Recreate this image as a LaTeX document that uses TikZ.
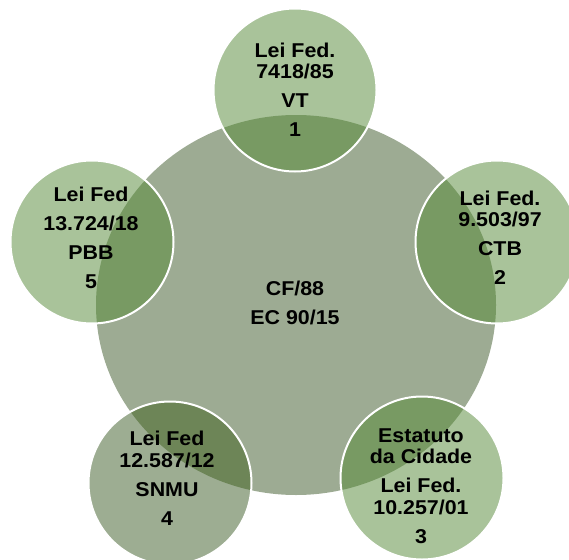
\documentclass[tikz,border=0pt]{standalone}
\usepackage{fontspec}
\setmainfont[FakeStretch=1.07]{Liberation Sans}
\usetikzlibrary{shapes.geometric}
\definecolor{bigc}{HTML}{9DAB93}
\definecolor{lightc}{HTML}{A9C39A}
\definecolor{ovc}{HTML}{789A63}
\definecolor{grayc}{HTML}{9DAD92}
\definecolor{ovgc}{HTML}{6D8557}
\begin{document}
\begin{tikzpicture}[x=1pt,y=-1pt,
  bigshape/.style={ellipse, fill=bigc, minimum width=400pt, minimum height=380pt, inner sep=0pt},
  smallcirc/.style={circle, minimum size=163pt, inner sep=0pt, draw=white, line width=2pt,
     path picture={\fill[#1] (O) ellipse [x radius=200pt, y radius=190pt];}},
  lbl/.style={font=\fontsize{20}{21.5}\selectfont\bfseries, align=center, inner sep=0pt, text=black}]
\useasboundingbox (0,0) rectangle (569,559);
\coordinate (O) at (296,305);
\node[bigshape] (cf) at (O) {};
\node[smallcirc=ovc, fill=lightc] (c1) at (295,90) {};
\node[smallcirc=ovc, fill=lightc] (c2) at (497,242) {};
\node[smallcirc=ovc, fill=lightc] (c3) at (422,478) {};
\node[smallcirc=ovgc, fill=grayc] (c4) at (170,483) {};
\node[smallcirc=ovc, fill=lightc] (c5) at (92,242) {};
\node[lbl] (t0) at (295,303) {CF/88\\[7.5pt]EC 90/15};
\node[lbl] (t1) at (295,90) {Lei Fed.\\7418/85\\[7.5pt]VT\\[7.5pt]1};
\node[lbl] (t2) at (500,238) {Lei Fed.\\9.503/97\\[7.5pt]CTB\\[7.5pt]2};
\node[lbl] (t3) at (421,486) {Estatuto\\da Cidade\\[7.5pt]Lei Fed.\\10.257/01\\[7.5pt]3};
\node[lbl] (t4) at (167,478) {Lei Fed\\12.587/12\\[7.5pt]SNMU\\[7.5pt]4};
\node[lbl] (t5) at (91,238) {Lei Fed\\[7.5pt]13.724/18\\[7.5pt]PBB\\[7.5pt]5};
\end{tikzpicture}
\end{document}
